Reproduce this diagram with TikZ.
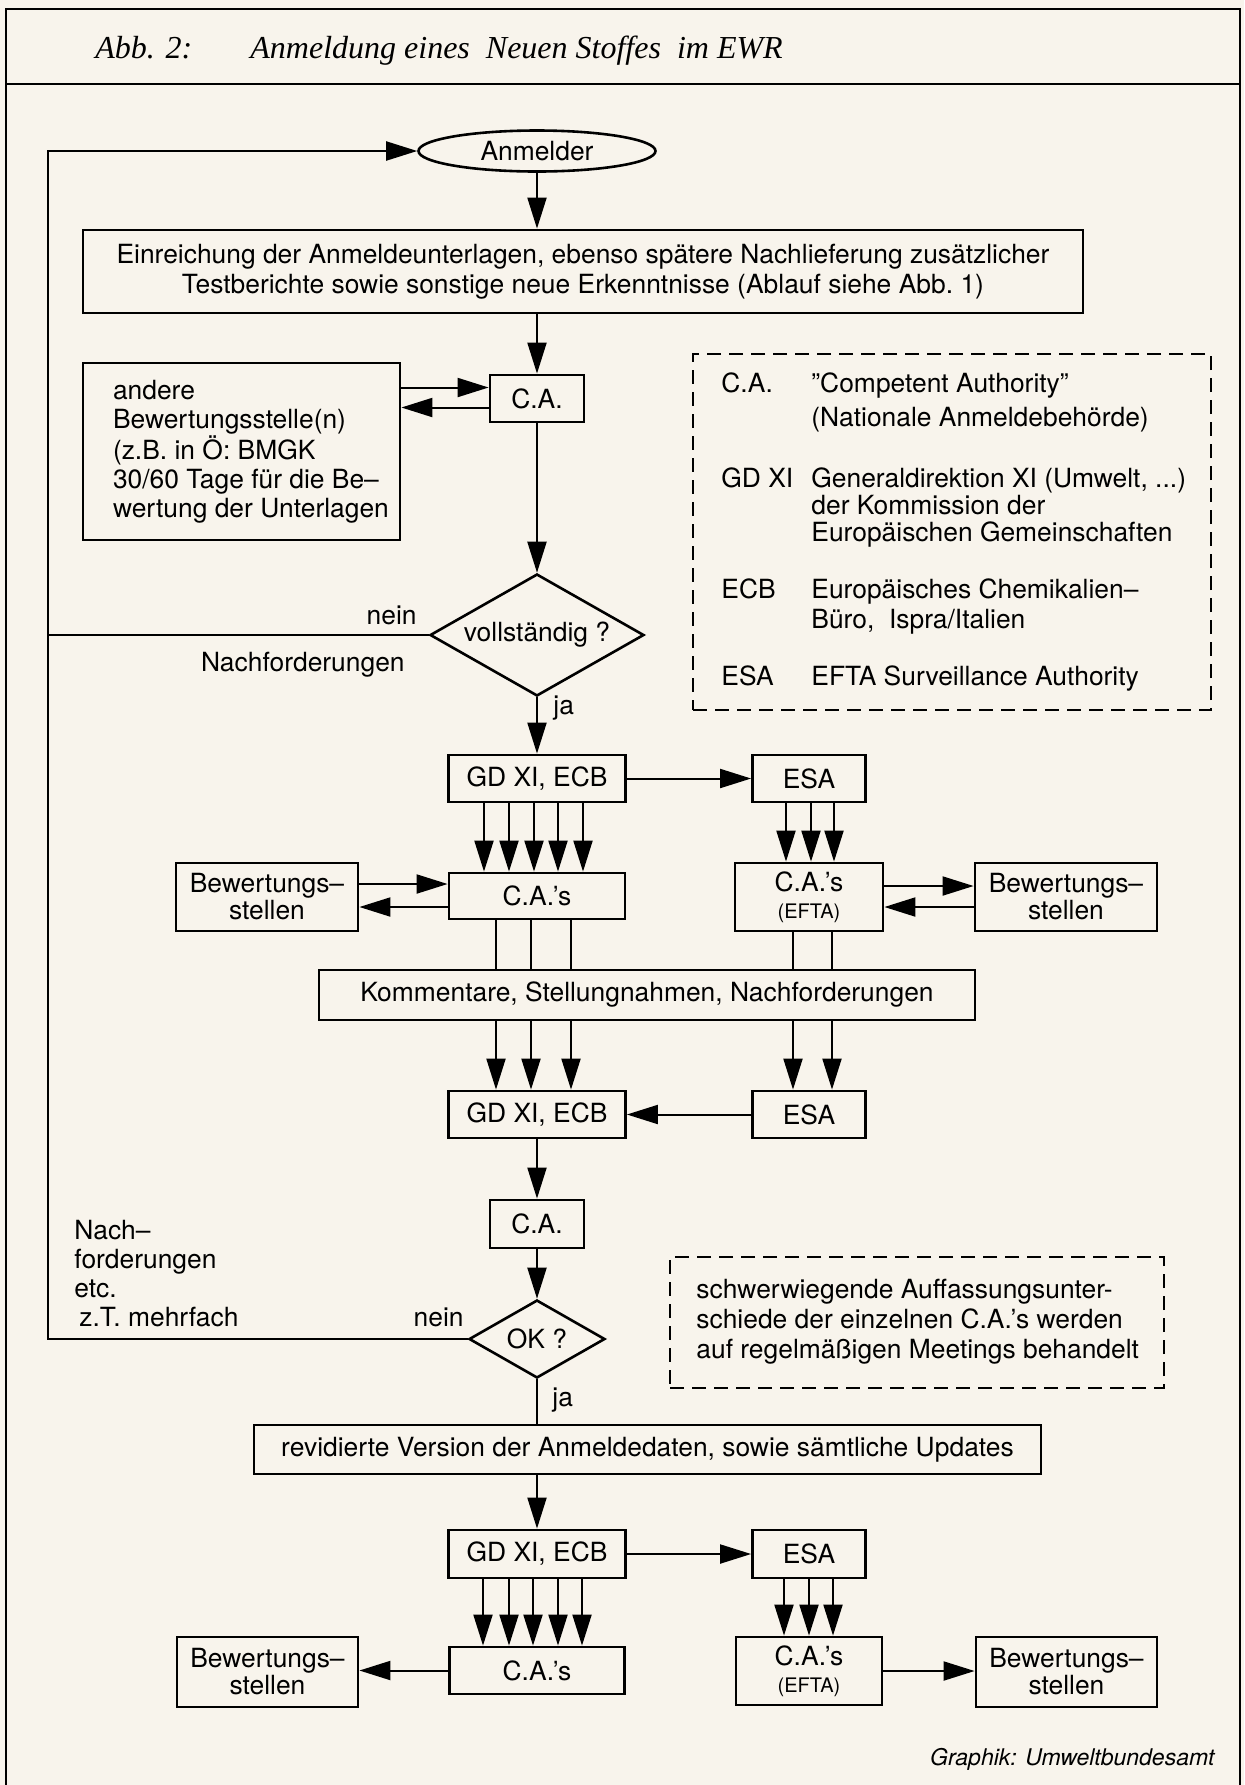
\documentclass[tikz,border=0pt]{standalone}
\usepackage{fontspec}
\setmainfont{TeX Gyre Heros}
\newfontfamily\titelfont{Liberation Serif}
\usepackage{xcolor}
\usepackage{tikz}
\usetikzlibrary{shapes,arrows.meta,positioning,calc}
\definecolor{papier}{RGB}{248,244,236}

\tikzset{
  box/.style={draw, line width=1.4pt, inner sep=0pt, align=center},
  raute/.style={draw, diamond, line width=1.3pt, inner sep=0pt, aspect=1.75},
  pfeil/.style={line width=1pt, -{Triangle[length=15.5pt,width=9.5pt]}},
  linie/.style={line width=1pt},
  strichbox/.style={draw, line width=0.7pt, dash pattern=on 7pt off 4pt, inner sep=0pt},
  txt/.style={inner sep=0pt},
  rahmen/.style={line width=1pt},
}

\begin{document}
\begin{tikzpicture}[x=0.5pt, y=-0.5pt, every node/.style={font=\fontsize{13.2}{15}\selectfont}]
    % Papier und Rahmen
    \fill[papier] (0,0) rectangle (1244,1785);
    \useasboundingbox (0,0) rectangle (1244,1785);
    \draw[rahmen] (6,1785) -- (6,9) -- (1240,9) -- (1240,1785);
    \draw[rahmen] (6,84) -- (1240,84);
    \node[txt, anchor=base west, font=\titelfont\itshape\fontsize{16}{18}\selectfont] (abb) at (95,58) {Abb. 2:};
    \node[txt, anchor=base west, font=\titelfont\itshape\fontsize{16}{18}\selectfont] (titel) at (250,58) {Anmeldung eines\ \ Neuen Stoffes\ \ im EWR};

    % Anmeldung
    \node[draw, ellipse, line width=1.3pt, inner sep=0pt, minimum width=118.5pt, minimum height=20.5pt] (anmelder) at (537,151) {Anmelder};
    \node[box, minimum width=500pt, minimum height=41.5pt] (einreichung) at (583,271.5) {Einreichung der Anmeldeunterlagen, ebenso spätere Nachlieferung zusätzlicher\\Testberichte sowie sonstige neue Erkenntnisse (Ablauf siehe Abb.~1)};
    \node[box, minimum width=47pt, minimum height=23.5pt] (caA) at (537,398.5) {C.A.};
    \node[box, minimum width=158.5pt, minimum height=88.5pt] (andere) at (241.5,451.5) {};
    \node[txt, anchor=west, align=left, font=\fontsize{13.2}{14.4}\selectfont] (andereText) at ([xshift=15.5pt]andere.west) {andere\\Bewertungsstelle(n)\\(z.B. in Ö: BMGK\\30/60 Tage für die Be–\\wertung der Unterlagen};
    \node[raute, minimum width=107pt, minimum height=61pt] (vollst) at (537,635) {vollständig ?};

    \draw[pfeil] (anmelder.south) -- (anmelder.south |- einreichung.north);
    \draw[pfeil] (einreichung.south -| caA.north) -- (caA.north);
    \coordinate (caAin) at ([yshift=5.5pt]caA.west);
    \coordinate (caAout) at ([yshift=-4.5pt]caA.west);
    \draw[pfeil] (andere.east |- caAin) -- (caAin);
    \draw[pfeil] (caAout) -- (andere.east |- caAout);
    \draw[pfeil] (caA.south) -- (vollst.north);

    % Rueckweg links
    \coordinate (rueck) at (48,0);
    \draw[linie] (vollst.west) -- (vollst.west -| rueck);
    \node[txt, anchor=base east] (nein1) at (417,624) {nein};
    \node[txt, anchor=base east] (nachf1) at (405,671) {Nachforderungen};
    \node[txt, anchor=base west] (ja1) at (553,714) {ja};

    % Legende
    \node[strichbox, minimum width=259pt, minimum height=178pt] (legende) at (952,532) {};
    \node[txt, anchor=base west] (lgCA) at (721,392) {C.A.};
    \node[txt, anchor=base west] at (811,392) {”Competent Authority”};
    \node[txt, anchor=base west] at (811,426) {(Nationale Anmeldebehörde)};
    \node[txt, anchor=base west] (lgGD) at (721,487) {GD XI};
    \node[txt, anchor=base west] at (811,487) {Generaldirektion XI (Umwelt, ...)};
    \node[txt, anchor=base west] at (811,514) {der Kommission der};
    \node[txt, anchor=base west] at (811,541) {Europäischen Gemeinschaften};
    \node[txt, anchor=base west] (lgECB) at (721,598) {ECB};
    \node[txt, anchor=base west] at (811,598) {Europäisches Chemikalien–};
    \node[txt, anchor=base west] at (811,628) {Büro,\ \ Ispra/Italien};
    \node[txt, anchor=base west] (lgESA) at (721,685) {ESA};
    \node[txt, anchor=base west] at (811,685) {EFTA Surveillance Authority};

    % Erste Runde
    \node[box, minimum width=88.5pt, minimum height=23.5pt] (gdA) at (537,778.5) {GD XI, ECB};
    \node[box, minimum width=56.5pt, minimum height=23.5pt] (esaA) at (809,778.5) {ESA};
    \node[box, minimum width=88pt, minimum height=23pt] (casA) at (537,896) {C.A.’s};
    \node[box, minimum width=91pt, minimum height=34pt, font=\fontsize{13.2}{13.5}\selectfont] (bewA) at (267,897) {Bewertungs–\\stellen};
    \node[box, minimum width=74pt, minimum height=34pt, font=\fontsize{13.2}{13.5}\selectfont] (eftaA) at (809,897) {C.A.’s\\{\fontsize{10}{12}\selectfont(EFTA)}};
    \node[box, minimum width=91pt, minimum height=34pt, font=\fontsize{13.2}{13.5}\selectfont] (bewB) at (1066,897) {Bewertungs–\\stellen};
    \node[box, minimum width=328pt, minimum height=25pt] (komm) at (647,995) {Kommentare, Stellungnahmen, Nachforderungen};
    \node[box, minimum width=88.5pt, minimum height=23.5pt] (gdB) at (537,1114.5) {GD XI, ECB};
    \node[box, minimum width=56.5pt, minimum height=23.5pt] (esaB) at (809,1114.5) {ESA};

    \draw[pfeil] (vollst.south) -- (gdA.north);
    \draw[pfeil] (gdA.east) -- (esaA.west);
    \foreach \dx in {-53,-28,-3,21,46}
        \draw[pfeil] ($(gdA.south)+(\dx,0)$) -- ($(casA.north)+(\dx,0)$);
    \foreach \dx in {-23,2,25}
        \draw[pfeil] ($(esaA.south)+(\dx,0)$) -- ($(eftaA.north)+(\dx,0)$);
    \draw[pfeil] ([yshift=6.5pt]bewA.east) -- ([yshift=6.5pt]bewA.east -| casA.west);
    \draw[pfeil] ([yshift=-5.5pt]casA.west) -- ([yshift=-5.5pt]casA.west -| bewA.east);
    \draw[pfeil] ([yshift=5.5pt]eftaA.east) -- ([yshift=5.5pt]bewB.west);
    \draw[pfeil] ([yshift=-5pt]bewB.west) -- ([yshift=-5pt]eftaA.east);
    \foreach \dx in {-41,-6,34} {
        \coordinate (ob) at ($(casA.south)+(\dx,0)$);
        \coordinate (un) at ($(gdB.north)+(\dx,0)$);
        \draw[linie] (ob) -- (ob |- komm.north);
        \draw[pfeil] (un |- komm.south) -- (un);
    }
    \foreach \dx in {-16,23} {
        \coordinate (ob) at ($(eftaA.south)+(\dx,0)$);
        \coordinate (un) at ($(esaB.north)+(\dx,0)$);
        \draw[linie] (ob) -- (ob |- komm.north);
        \draw[pfeil] (un |- komm.south) -- (un);
    }
    \draw[pfeil] (esaB.west) -- (gdB.east);

    % Pruefung
    \node[box, minimum width=47pt, minimum height=24pt] (caB) at (537,1224) {C.A.};
    \node[raute, minimum width=68pt, minimum height=39pt] (ok) at (537,1339) {OK ?};
    \draw[pfeil] (gdB.south) -- (caB.north);
    \draw[pfeil] (caB.south) -- (ok.north);
    \draw[pfeil] (ok.west) -- (ok.west -| rueck) -- (rueck |- anmelder.west) -- (anmelder.west);
    \node[txt, anchor=base east] (nein2) at (464,1326) {nein};
    \node[txt, anchor=west, align=left, font=\fontsize{13.2}{14.5}\selectfont] (nachf2) at (74,1274) {Nach–\\forderungen\\etc.\\\hspace*{2.5pt}z.T. mehrfach};
    \node[strichbox, minimum width=247pt, minimum height=65.5pt] (meetings) at (917,1322.5) {};
    \node[txt, anchor=west, align=left] (meetText) at (696,1322) {schwerwiegende Auffassungsunter-\\schiede der einzelnen C.A.’s werden\\auf regelmäßigen Meetings behandelt};

    % Zweite Runde
    \node[box, minimum width=393.5pt, minimum height=24.5pt] (revid) at (647.5,1449.5) {revidierte Version der Anmeldedaten, sowie sämtliche Updates};
    \draw[linie] (ok.south) -- (ok.south |- revid.north);
    \node[txt, anchor=base west] (ja2) at (552,1406) {ja};
    \node[box, minimum width=88.5pt, minimum height=24pt] (gdC) at (537,1554) {GD XI, ECB};
    \node[box, minimum width=56.5pt, minimum height=24pt] (esaC) at (809,1554) {ESA};
    \node[box, minimum width=87.5pt, minimum height=23.5pt] (casC) at (537,1670.5) {C.A.’s};
    \node[box, minimum width=90.5pt, minimum height=35pt, font=\fontsize{13.2}{13.5}\selectfont] (bewC) at (267.5,1672) {Bewertungs–\\stellen};
    \node[box, minimum width=73pt, minimum height=34pt, font=\fontsize{13.2}{13.5}\selectfont] (eftaC) at (809,1671) {C.A.’s\\{\fontsize{10}{12}\selectfont(EFTA)}};
    \node[box, minimum width=90.5pt, minimum height=35pt, font=\fontsize{13.2}{13.5}\selectfont] (bewD) at (1066.5,1672) {Bewertungs–\\stellen};

    \draw[pfeil] (revid.south -| gdC.north) -- (gdC.north);
    \draw[pfeil] (gdC.east) -- (esaC.west);
    \foreach \dx in {-54,-28,-4,21,45}
        \draw[pfeil] ($(gdC.south)+(\dx,0)$) -- ($(casC.north)+(\dx,0)$);
    \foreach \dx in {-25,0,24}
        \draw[pfeil] ($(esaC.south)+(\dx,0)$) -- ($(eftaC.north)+(\dx,0)$);
    \draw[pfeil] (casC.west) -- (casC.west -| bewC.east);
    \draw[pfeil] (eftaC.east) -- (eftaC.east -| bewD.west);

    \node[txt, anchor=base east, font=\itshape\fontsize{11.5}{13}\selectfont] (quelle) at (1215,1765) {Graphik: Umweltbundesamt};
\end{tikzpicture}
\end{document}
